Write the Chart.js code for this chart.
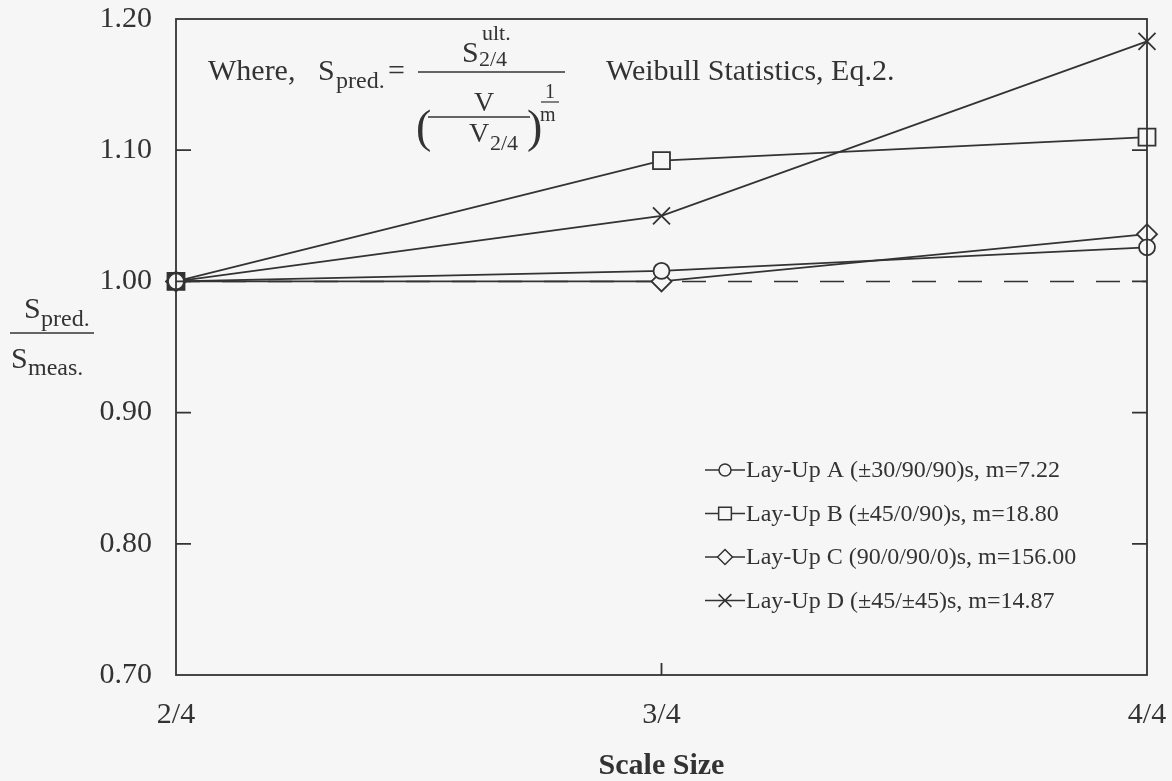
<!DOCTYPE html>
<html>
<head>
<meta charset="utf-8">
<script src="https://cdn.jsdelivr.net/npm/chart.js@4"></script>
<style>
  html, body { margin: 0; padding: 0; background: #f6f6f6; }
  #wrap { width: 1172px; height: 781px; }
</style>
</head>
<body>
<div id="wrap"><canvas id="chart" width="1172" height="781"></canvas></div>
<script>
// Data
const scaleSizes = ['2/4', '3/4', '4/4'];
const layUpA = [1.000, 1.008, 1.026];
const layUpB = [1.000, 1.092, 1.110];
const layUpC = [1.000, 1.000, 1.036];
const layUpD = [1.000, 1.050, 1.183];
const unityLine = [1.00, 1.00, 1.00];
const seriesLabels = [
  'Lay-Up A (\u00b130/90/90)s, m=7.22',
  'Lay-Up B (\u00b145/0/90)s, m=18.80',
  'Lay-Up C (90/0/90/0)s, m=156.00',
  'Lay-Up D (\u00b145/\u00b145)s, m=14.87'
];
const yTicks = [0.70, 0.80, 0.90, 1.00, 1.10, 1.20];

// Helpers
const INK = '#333';
const BG = '#f6f6f6';
const SERIF = '"Liberation Serif", "DejaVu Serif", serif';

function series(label, data, style, radius) {
  return {
    label, data,
    borderColor: INK, borderWidth: 1.8,
    pointStyle: style, pointRadius: radius, pointHoverRadius: radius,
    pointBorderColor: INK, pointBorderWidth: 1.8,
    pointBackgroundColor: BG,
    tension: 0, clip: false, inLegend: true
  };
}

function txt(ctx, s, x, y, size, weight) {
  ctx.font = `${weight || ''} ${size}px ${SERIF}`;
  ctx.fillText(s, x, y);
}

// Box frame + inward ticks
const framePlugin = {
  id: 'frame',
  afterDraw(chart) {
    const { ctx, chartArea: a, scales } = chart;
    ctx.save();
    ctx.strokeStyle = INK;
    ctx.lineWidth = 1.8;
    ctx.strokeRect(a.left, a.top, a.right - a.left, a.bottom - a.top);
    ctx.beginPath();
    yTicks.slice(1, -1).forEach(v => {
      const y = scales.y.getPixelForValue(v);
      ctx.moveTo(a.left, y); ctx.lineTo(a.left + 15, y);
      ctx.moveTo(a.right - 15, y); ctx.lineTo(a.right, y);
    });
    scaleSizes.slice(1, -1).forEach((c, i) => {
      const x = scales.x.getPixelForValue(i + 1);
      ctx.moveTo(x, a.bottom); ctx.lineTo(x, a.bottom - 12);
    });
    ctx.stroke();
    ctx.restore();
  }
};

// Legend inside the plot, lower right
const legendPlugin = {
  id: 'innerLegend',
  afterDraw(chart) {
    const { ctx } = chart;
    const x0 = 705, y0 = 470, step = 43.5;
    ctx.save();
    ctx.fillStyle = INK;
    ctx.strokeStyle = INK;
    ctx.textBaseline = 'middle';
    chart.data.datasets.filter(d => d.inLegend).forEach((d, i) => {
      const y = y0 + i * step;
      ctx.lineWidth = 1.5;
      ctx.beginPath();
      ctx.moveTo(x0, y); ctx.lineTo(x0 + 40, y);
      ctx.stroke();
      ctx.fillStyle = BG;
      Chart.helpers.drawPoint(ctx, { pointStyle: d.pointStyle, radius: d.pointRadius * 0.75, rotation: 0, borderWidth: 1.5 }, x0 + 20, y);
      ctx.fillStyle = INK;
      txt(ctx, d.label, x0 + 41, y + 1, 24);
    });
    ctx.restore();
  }
};

// Y-axis title as a fraction, and the formula note
const notesPlugin = {
  id: 'notes',
  afterDraw(chart) {
    const { ctx } = chart;
    ctx.save();
    ctx.fillStyle = INK;
    ctx.strokeStyle = INK;
    ctx.textBaseline = 'alphabetic';

    // S_pred. / S_meas.
    txt(ctx, 'S', 24, 318, 30);
    txt(ctx, 'pred.', 41, 326, 24);
    ctx.lineWidth = 1.5;
    ctx.beginPath(); ctx.moveTo(10, 333); ctx.lineTo(94, 333); ctx.stroke();
    txt(ctx, 'S', 11, 368, 30);
    txt(ctx, 'meas.', 28, 375, 24);

    // Where, S_pred. = S^ult._2/4 / (V / V_2/4)^(1/m)
    txt(ctx, 'Where,', 208, 80, 30);
    txt(ctx, 'S', 318, 80, 30);
    txt(ctx, 'pred.', 336, 88, 24);
    txt(ctx, '=', 388, 80, 30);
    ctx.beginPath(); ctx.moveTo(418, 72); ctx.lineTo(565, 72); ctx.stroke();
    txt(ctx, 'S', 462, 62, 30);
    txt(ctx, 'ult.', 482, 40, 22);
    txt(ctx, '2/4', 479, 66, 22);
    txt(ctx, '(', 416, 142, 46);
    ctx.beginPath(); ctx.moveTo(428, 117); ctx.lineTo(530, 117); ctx.stroke();
    txt(ctx, 'V', 474, 111, 28);
    txt(ctx, 'V', 469, 142, 28);
    txt(ctx, '2/4', 490, 150, 22);
    txt(ctx, ')', 527, 142, 46);
    txt(ctx, '1', 545, 98, 20);
    ctx.lineWidth = 1.2;
    ctx.beginPath(); ctx.moveTo(541, 102); ctx.lineTo(559, 102); ctx.stroke();
    txt(ctx, 'm', 540, 121, 20);

    txt(ctx, 'Weibull Statistics, Eq.2.', 606, 80, 30);
    ctx.restore();
  }
};

const datasets = [
  series(seriesLabels[0], layUpA, 'circle', 8),
  Object.assign(series(seriesLabels[1], layUpB, 'rect', 12), { pointBackgroundColor: [INK, BG, BG] }),
  series(seriesLabels[2], layUpC, 'rectRot', 10),
  series(seriesLabels[3], layUpD, 'crossRot', 12),
  {
    label: '', data: unityLine, borderColor: INK, borderWidth: 1.5,
    borderDash: [24, 22], pointRadius: 0, tension: 0, clip: false, inLegend: false
  }
];

new Chart(document.getElementById('chart'), {
  type: 'line',
  data: { labels: scaleSizes, datasets },
  options: {
    responsive: false,
    animation: false,
    events: [],
    layout: { padding: { top: 19, right: 25, left: 0, bottom: 0 } },
    plugins: { legend: { display: false }, tooltip: { enabled: false } },
    scales: {
      x: {
        type: 'category',
        offset: false,
        grid: { display: false, drawTicks: false },
        border: { display: false },
        afterFit: s => { s.height = 106; s.paddingLeft = 0; s.paddingRight = 0; },
        ticks: { color: INK, padding: 22, maxRotation: 0, font: { family: SERIF, size: 30 } },
        title: {
          display: true, text: 'Scale Size', color: INK,
          padding: { top: 0, bottom: -3 },
          font: { family: SERIF, size: 30, weight: 'bold' }
        }
      },
      y: {
        min: 0.7, max: 1.2,
        grid: { display: false, drawTicks: false },
        border: { display: false },
        afterFit: s => { s.width = 176; s.paddingTop = 0; s.paddingBottom = 0; },
        afterBuildTicks: s => { s.ticks = yTicks.map(v => ({ value: v })); },
        ticks: {
          color: INK, padding: 24,
          font: { family: SERIF, size: 30 },
          callback: v => Number(v).toFixed(2)
        }
      }
    }
  },
  plugins: [framePlugin, legendPlugin, notesPlugin]
});
</script>
</body>
</html>
